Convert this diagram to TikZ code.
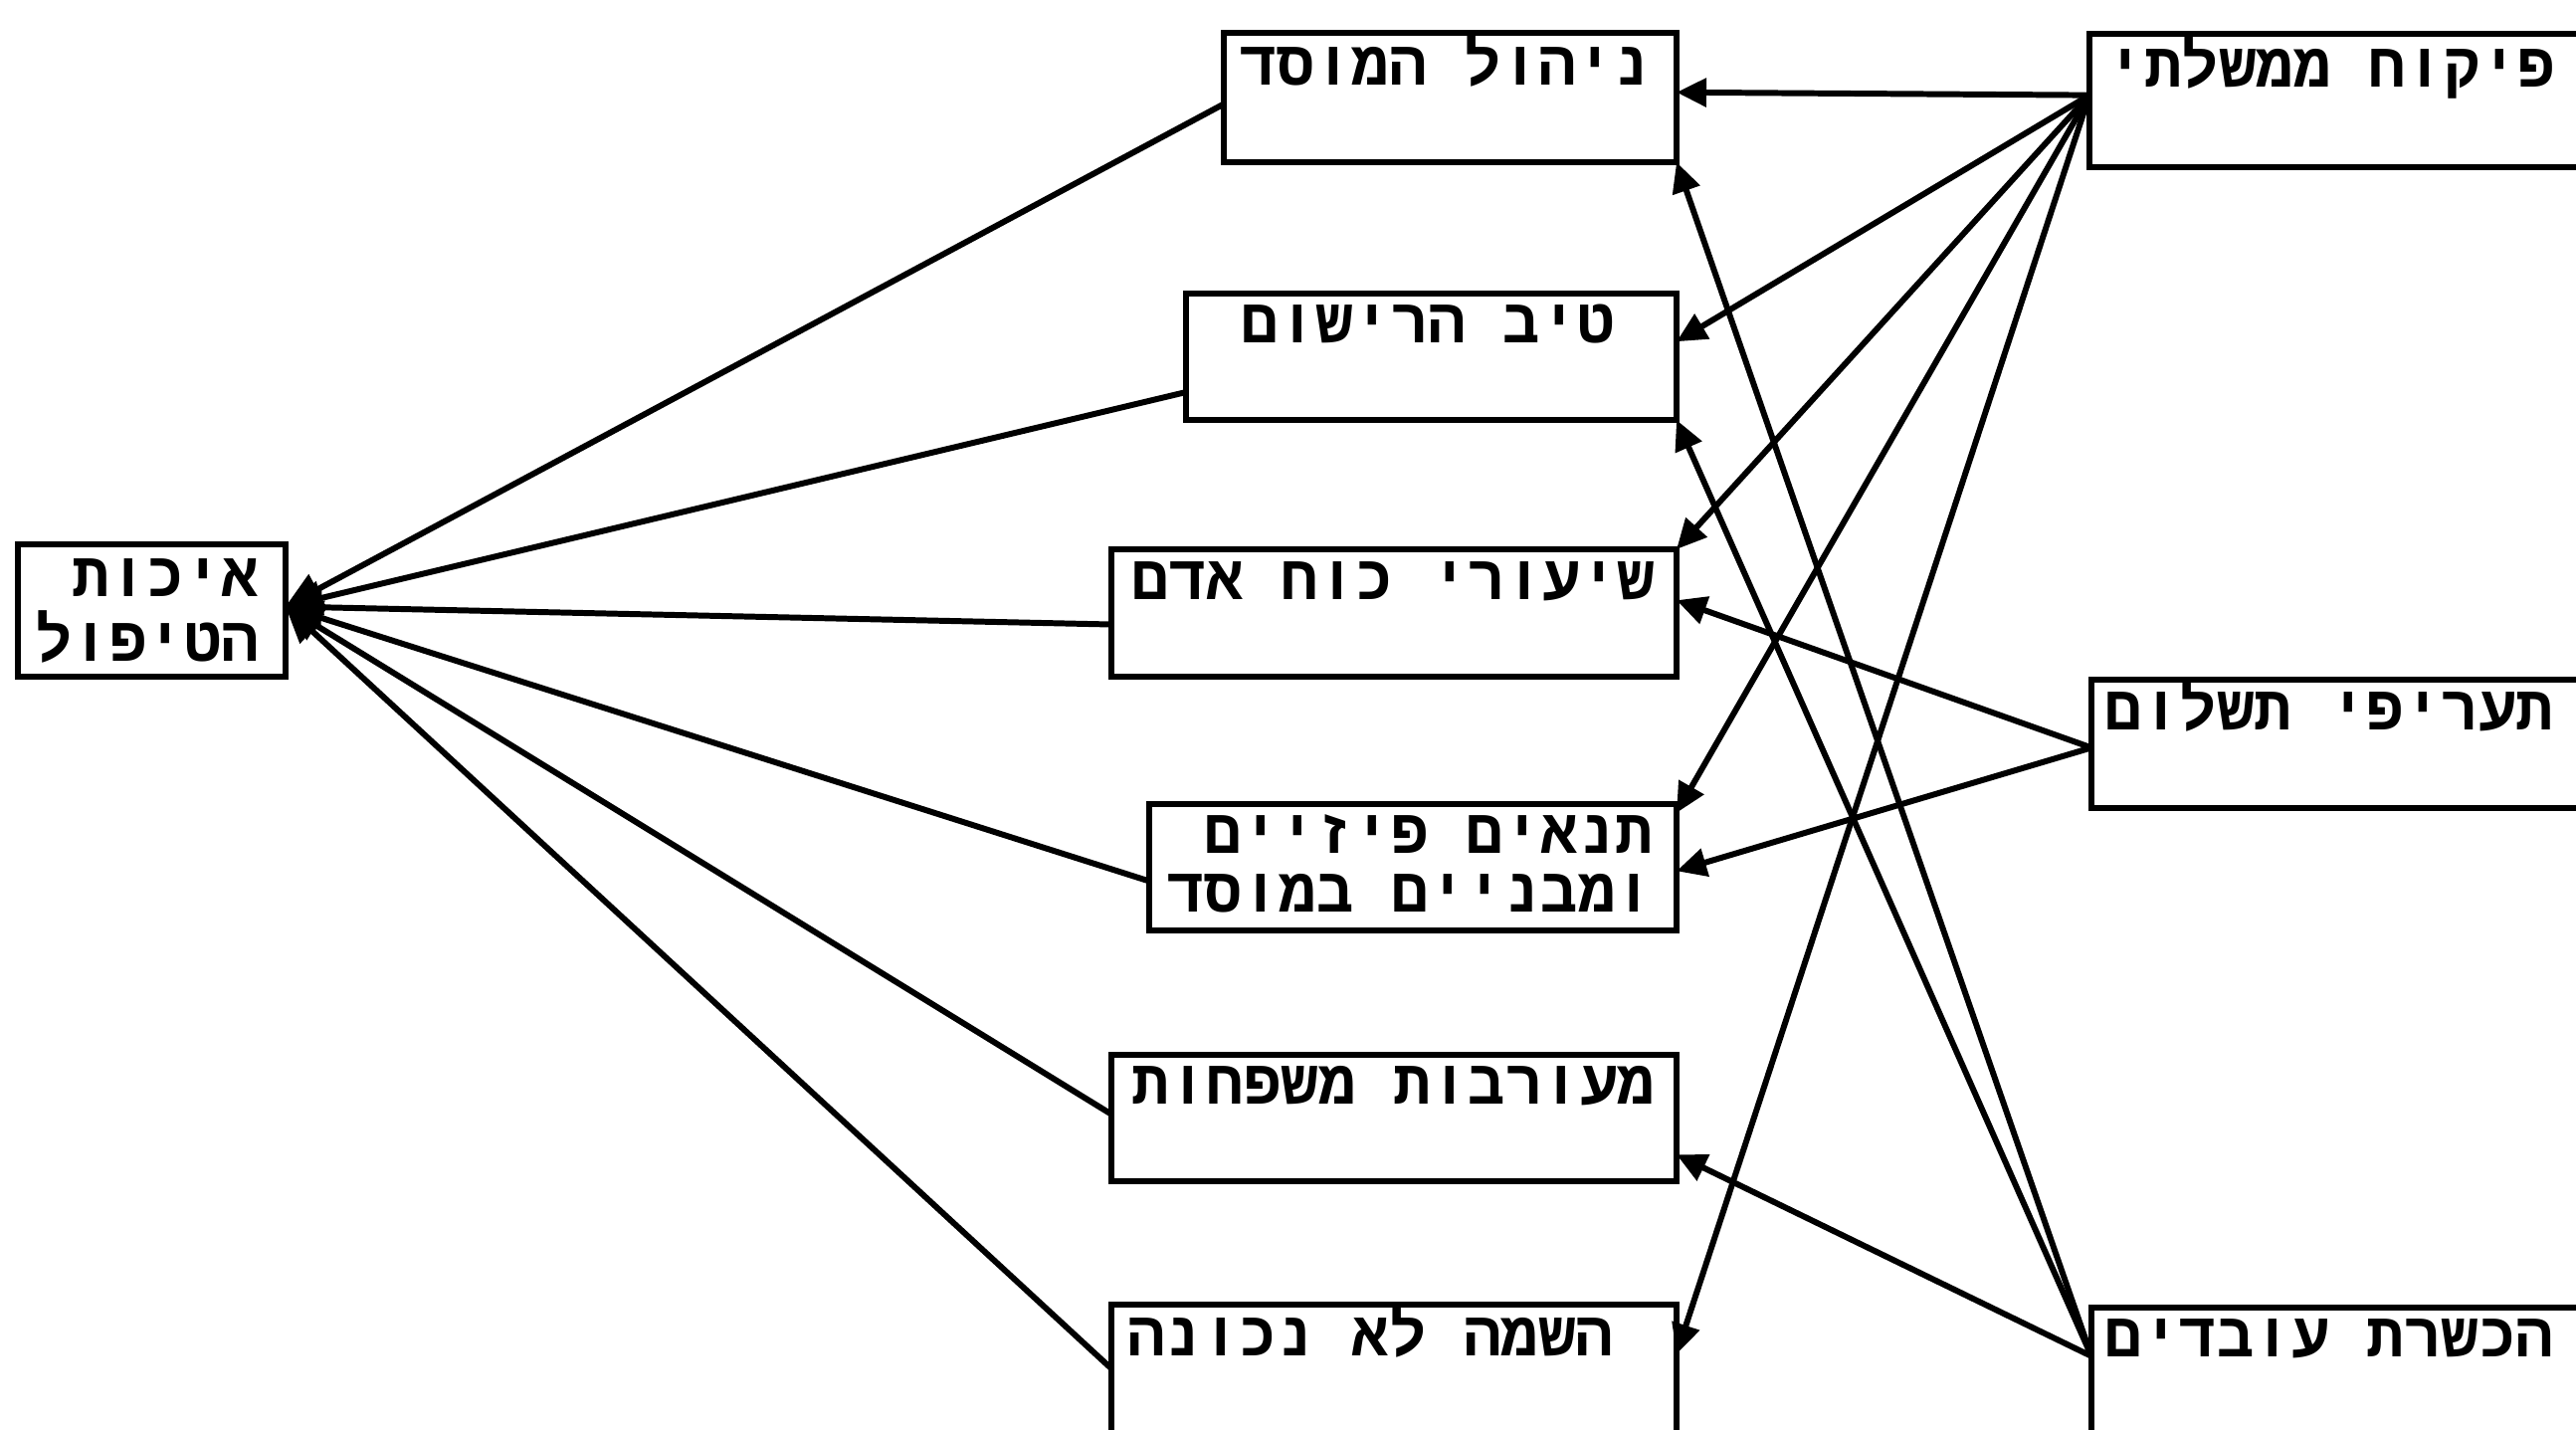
\documentclass[tikz,border=0pt]{standalone}
\usepackage{fontspec}
\usetikzlibrary{arrows.meta,calc}
\newfontfamily\hebtype[Script=Hebrew]{Liberation Mono}
\TeXXeTstate=1
\newcommand\rtl[1]{\beginR #1\endR}

\begin{document}
\begin{tikzpicture}[x=0.1mm,y=-0.1mm,
  box/.style={draw, line width=1.9pt, inner sep=0pt, outer sep=0pt, anchor=north west},
  lbl/.style={inner sep=0pt, anchor=base east,
    font={\fontsize{17.8}{21}\selectfont\hebtype\bfseries}},
  conn/.style={line width=1.7pt, -{Triangle[length=3mm,width=2.8mm]}},
  toq/.style={line width=1.7pt, -{Triangle[length=3.6mm,width=3.4mm]}},
]
\clip (0,0) rectangle (2589,1437);

% outcome box on the left
\node[box, minimum width=26.9mm, minimum height=13.3mm] (q) at (18,547) {};
\node[lbl] (q1) at (261,600) {\rtl{איכות}};
\node[lbl] (q2) at (261,665) {\rtl{הטיפול}};

% middle column of factors
\node[box, minimum width=45.5mm, minimum height=13.0mm] (m1) at (1230,33) {};
\node[box, minimum width=49.3mm, minimum height=12.7mm] (m2) at (1192,295) {};
\node[box, minimum width=56.8mm, minimum height=12.8mm] (m3) at (1117,552) {};
\node[box, minimum width=53.0mm, minimum height=12.7mm] (m4) at (1155,808) {};
\node[box, minimum width=56.8mm, minimum height=12.7mm] (m5) at (1117,1060) {};
\node[box, minimum width=56.8mm, minimum height=13.4mm] (m6) at (1117,1311) {};

\node[lbl] (t1) at (1660,86) {\rtl{ניהול המוסד}};
\node[lbl] (t2) at (1624,345) {\rtl{טיב הרישום}};
\node[lbl] (t3) at (1664,603) {\rtl{שיעורי כוח אדם}};
\node[lbl] (t4a) at (1662,858) {\rtl{תנאים פיזיים}};
\node[lbl] (t4b) at (1662,917) {\rtl{ומבניים במוסד}};
\node[lbl] (t5) at (1664,1110) {\rtl{מעורבות משפחות}};
\node[lbl] (t6) at (1622,1362) {\rtl{השמה לא נכונה}};

% right column of sources (running past the right edge)
\node[box, minimum width=52.0mm, minimum height=13.4mm] (r1) at (2100,34) {};
\node[box, minimum width=52.0mm, minimum height=12.9mm] (r2) at (2102,683) {};
\node[box, minimum width=52.0mm, minimum height=13.2mm] (r3) at (2102,1314) {};

\node[lbl] (s1) at (2569,88) {\rtl{פיקוח ממשלתי}};
\node[lbl] (s2) at (2567,734) {\rtl{תעריפי תשלום}};
\node[lbl] (s3) at (2567,1363) {\rtl{הכשרת עובדים}};

% every factor feeds the quality of care
\coordinate (qin) at ($(q.north east)!.47!(q.south east)$);
\draw[toq] ($(m1.north west)!.55!(m1.south west)$) -- (qin);
\draw[toq] ($(m2.north west)!.78!(m2.south west)$) -- (qin);
\draw[toq] ($(m3.north west)!.59!(m3.south west)$) -- (qin);
\draw[toq] ($(m4.north west)!.61!(m4.south west)$) -- (qin);
\draw[toq] ($(m5.north west)!.47!(m5.south west)$) -- (qin);
\draw[toq] ($(m6.north west)!.48!(m6.south west)$) -- (qin);

% government supervision
\coordinate (r1out) at ($(r1.north west)!.46!(r1.south west)$);
\draw[conn] (r1out) -- ($(m1.north east)!.46!(m1.south east)$);
\draw[conn] (r1out) -- ($(m2.north east)!.38!(m2.south east)$);
\draw[conn] (r1out) -- (m3.north east);
\draw[conn] (r1out) -- ($(m4.north east)!.07!(m4.south east)$);
\draw[conn] (r1out) -- ($(m6.north east)!.37!(m6.south east)$);

% payment rates
\coordinate (r2out) at ($(r2.north west)!.53!(r2.south west)$);
\draw[conn] (r2out) -- ($(m3.north east)!.40!(m3.south east)$);
\draw[conn] (r2out) -- ($(m4.north east)!.53!(m4.south east)$);

% staff training
\coordinate (r3out) at ($(r3.north west)!.37!(r3.south west)$);
\draw[conn] (r3out) -- (m1.south east);
\draw[conn] (r3out) -- (m2.south east);
\draw[conn] (r3out) -- ($(m5.north east)!.79!(m5.south east)$);
\end{tikzpicture}
\end{document}
